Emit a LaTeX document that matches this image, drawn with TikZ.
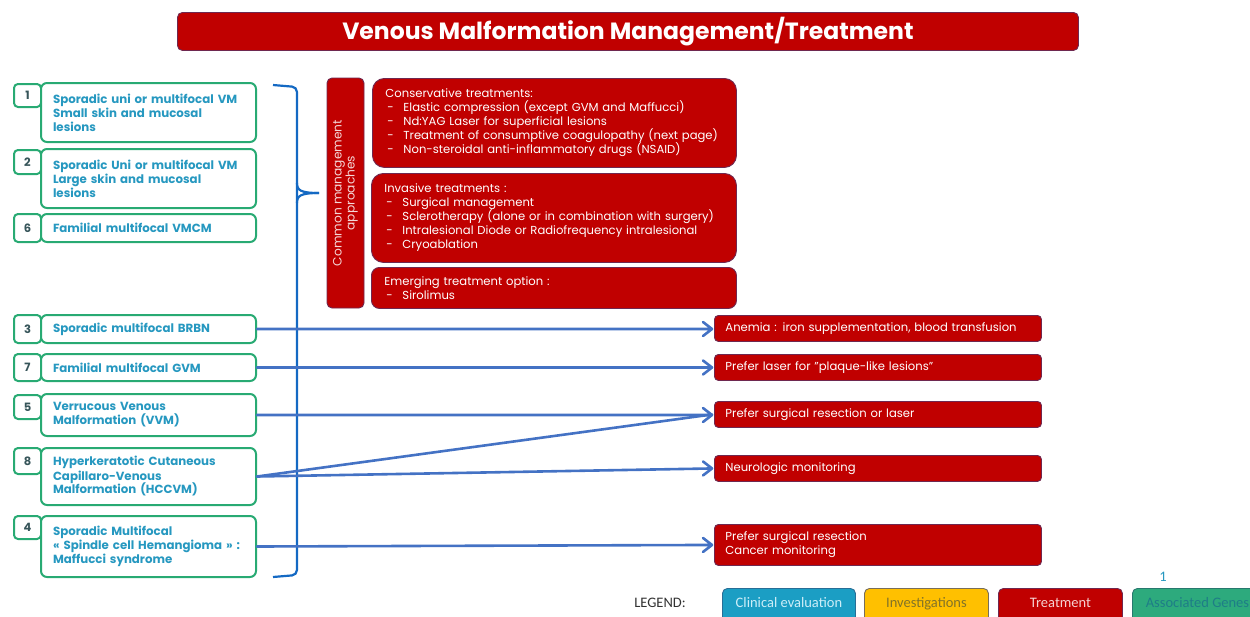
\documentclass[tikz,border=0pt]{standalone}
\usepackage{fontspec}
\setmainfont{Poppins}
\newfontfamily\legfont{Carlito}
\usetikzlibrary{arrows.meta,calc}
\definecolor{vmred}{RGB}{192,0,0}
\definecolor{vmredborder}{RGB}{110,40,80}
\definecolor{vmgreen}{RGB}{40,170,115}
\definecolor{vmtext}{RGB}{38,152,192}
\definecolor{vmnum}{RGB}{55,85,90}
\definecolor{bracketblue}{RGB}{20,105,195}
\definecolor{arrowblue}{RGB}{68,114,196}
\definecolor{legblue}{RGB}{27,158,196}
\definecolor{legyellow}{RGB}{255,192,0}
\definecolor{leggreen}{RGB}{45,170,125}
\newcommand{\itm}[1]{\\\hspace*{2pt}\makebox[16pt][l]{-}#1}
\tikzset{
  gbox/.style={draw=vmgreen, line width=2pt, rounded corners=6pt, fill=white, anchor=north west,
    minimum width=215pt, text width=191pt, align=left, inner xsep=12pt, inner ysep=0pt,
    font=\bfseries\fontsize{11.8}{14}\selectfont, text=vmtext},
  numbox/.style={draw=vmgreen, line width=2pt, rounded corners=4pt, fill=white, anchor=north west,
    minimum width=27pt, inner sep=0pt, font=\bfseries\fontsize{11.5}{14}\selectfont, text=vmnum},
  redbox/.style={fill=vmred, draw=vmredborder, line width=0.9pt, anchor=north west, text=white,
    align=left, inner ysep=0pt, font=\fontsize{11.6}{14}\selectfont},
  rbox/.style={redbox, rounded corners=4pt, minimum width=327pt, text width=305pt, inner xsep=11pt},
  conn/.style={draw=arrowblue, line width=2.6pt, line cap=round, line join=round},
  legbox/.style={anchor=north west, rounded corners=5pt, line width=0.9pt, minimum height=34pt,
    font=\legfont\fontsize{14.5}{16}\selectfont, inner sep=0pt, text depth=6pt},
}
\begin{document}
\begin{tikzpicture}[x=1pt,y=-1pt]
\useasboundingbox (0,0) rectangle (1250,616);
% title
\node[redbox, rounded corners=5pt, minimum width=901pt, minimum height=38pt, align=center,
  font=\bfseries\fontsize{23.5}{26}\selectfont] (title) at (177,12) {Venous Malformation Management/Treatment};
% left entities
\node[numbox, minimum height=23pt] (n1) at (13,83) {1};
\node[gbox, minimum height=59pt] (b1) at (40,82) {Sporadic uni or multifocal VM\\Small skin and mucosal\\lesions};
\node[numbox, minimum height=24pt] (n2) at (13,149) {2};
\node[gbox, minimum height=59pt] (b2) at (40,148) {Sporadic Uni or multifocal VM\\Large skin and mucosal\\lesions};
\node[numbox, minimum height=28pt] (n6) at (13,213) {6};
\node[gbox, minimum height=28pt] (b6) at (40,213) {Familial multifocal VMCM};
\node[numbox, minimum height=28pt] (n3) at (13,314) {3};
\node[gbox, minimum height=28pt] (b3) at (40,314) {Sporadic multifocal BRBN};
\node[numbox, minimum height=27pt] (n7) at (13,353) {7};
\node[gbox, minimum height=27pt] (b7) at (40,353) {Familial multifocal GVM};
\node[numbox, minimum height=24pt] (n5) at (13,394) {5};
\node[gbox, minimum height=42pt] (b5) at (40,393) {Verrucous Venous\\Malformation (VVM)};
\node[numbox, minimum height=26pt] (n8) at (13,447) {8};
\node[gbox, minimum height=57pt] (b8) at (40,447) {Hyperkeratotic Cutaneous\\Capillaro-Venous\\Malformation (HCCVM)};
\node[numbox, minimum height=23pt] (n4) at (13,515) {4};
\node[gbox, minimum height=61pt] (b4) at (40,515) {Sporadic Multifocal\\« Spindle cell Hemangioma » :\\Maffucci syndrome};
% bracket
\draw[bracketblue, line width=2.2pt, rounded corners=5pt] (273,85) -- (297,87) -- (297,575) -- (273,577);
\coordinate (tip) at (319,193);
\draw[bracketblue, line width=2.2pt] (297,183) .. controls (297,190) and (300,193) .. (tip);
\draw[bracketblue, line width=2.2pt] (297,203) .. controls (297,196) and (300,193) .. (tip);
% common approaches
\node[redbox, rounded corners=5pt, rotate=90, anchor=center, minimum width=230pt, minimum height=37pt,
  align=center, inner sep=0pt, font=\fontsize{12.2}{13}\selectfont,
  text={rgb,255:red,245;green,215;blue,215}] (common) at (345.5,193)
  {Common management\\approaches};
\node[redbox, rounded corners=12pt, minimum width=363pt, minimum height=89pt, text width=338pt, inner xsep=13pt] (cons) at (372,78)
  {Conservative treatments:\itm{Elastic compression (except GVM and Maffucci)}\itm{Nd:YAG Laser for superficial lesions}\itm{Treatment of consumptive coagulopathy (next page)}\itm{Non-steroidal anti-inflammatory drugs (NSAID)}};
\node[redbox, rounded corners=12pt, minimum width=364pt, minimum height=89pt, text width=339pt, inner xsep=13pt] (inv) at (371,173)
  {Invasive treatments :\itm{Surgical management}\itm{Sclerotherapy (alone or in combination with surgery)}\itm{Intralesional Diode or Radiofrequency intralesional}\itm{Cryoablation}};
\node[redbox, rounded corners=8pt, minimum width=364pt, minimum height=41pt, text width=339pt, inner xsep=13pt] (emer) at (371,267)
  {Emerging treatment option :\itm{Sirolimus}};
% right treatments
\node[rbox, minimum height=26pt] (r1) at (714,315) {Anemia : iron supplementation, blood transfusion};
\node[rbox, minimum height=26pt] (r2) at (714,354) {Prefer laser for "plaque-like lesions"};
\node[rbox, minimum height=26pt] (r3) at (714,401) {Prefer surgical resection or laser};
\node[rbox, minimum height=26pt] (r4) at (714,455) {Neurologic monitoring};
\node[rbox, minimum height=41pt] (r5) at (714,524) {Prefer surgical resection\\Cancer monitoring};
% connector end points just before the target boxes
\coordinate (e1) at ($(b3.east -| r1.west)+(-2,0)$);
\coordinate (e2) at ($(b7.east -| r2.west)+(-2,0)$);
\coordinate (e3) at ($(r3.west)+(-2,0)$);
\coordinate (e4) at ($(r4.west)+(-2,0)$);
\coordinate (e5) at ($(r5.west)+(-2,0)$);
% connectors: shaft plus open barb head in one path
\draw[conn] (b3.east) -- (e1) ++(-9,-7) -- (e1) -- ++(-9,7);
\draw[conn] (b7.east) -- (e2) ++(-9,-7) -- (e2) -- ++(-9,7);
\draw[conn] (b5.east) -- (e3 |- b5.east) ++(-9,-7) -- (e3 |- b5.east) -- ++(-9,7);
\draw[conn] (b8.east) -- (e3);
\draw[conn] (b8.east) -- (e4) ++(-9,-7) -- (e4) -- ++(-9,7);
\draw[conn] (b4.east) -- (e5) ++(-9,-7) -- (e5) -- ++(-9,7);
% legend
\node[font=\legfont\fontsize{14.5}{16}\selectfont, text={rgb,255:red,50;green,50;blue,50}] (leg) at (660,603) {LEGEND:};
\node[legbox, fill=legblue, draw={rgb,255:red,40;green,110;blue,150}, minimum width=133pt, text={rgb,255:red,205;green,238;blue,248}] (l1) at (722,588) {Clinical evaluation};
\node[legbox, fill=legyellow, draw={rgb,255:red,120;green,110;blue,90}, minimum width=124pt, text={rgb,255:red,130;green,115;blue,40}] (l2) at (864,588) {Investigations};
\node[legbox, fill=vmred, draw=vmredborder, minimum width=124pt, text={rgb,255:red,245;green,210;blue,210}] (l3) at (998,588) {Treatment};
\node[legbox, fill=leggreen, draw={rgb,255:red,40;green,120;blue,110}, minimum width=130pt, text={rgb,255:red,30;green,125;blue,135}] (l4) at (1132,588) {Associated Genes};
\node[font=\legfont\fontsize{14.5}{16}\selectfont, text=vmtext] (one) at (1163,577) {1};
\end{tikzpicture}
\end{document}
